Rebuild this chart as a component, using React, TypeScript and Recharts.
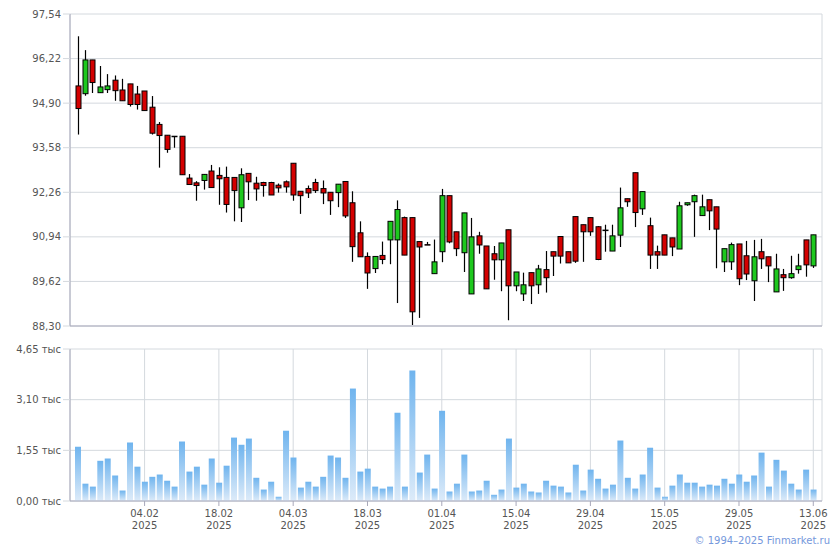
import {
	ComposedChart,
	BarChart,
	Bar,
	XAxis,
	YAxis,
	CartesianGrid,
} from "recharts";

const dates = [
	"22.01", "23.01", "24.01", "27.01", "28.01", "29.01", "30.01", "31.01",
	"03.02", "04.02", "05.02", "06.02", "07.02", "10.02", "11.02", "12.02", "13.02", "14.02",
	"17.02", "18.02", "19.02", "20.02", "21.02", "24.02", "25.02", "26.02", "27.02", "28.02",
	"03.03", "04.03", "05.03", "06.03", "07.03", "10.03", "11.03", "12.03", "13.03", "14.03",
	"17.03", "18.03", "19.03", "20.03", "21.03", "24.03", "25.03", "26.03", "27.03", "28.03", "31.03",
	"01.04", "02.04", "03.04", "04.04", "07.04", "08.04", "09.04", "10.04", "11.04", "14.04",
	"15.04", "16.04", "17.04", "18.04", "21.04", "22.04", "23.04", "24.04", "25.04", "28.04",
	"29.04", "30.04", "02.05", "05.05", "06.05", "07.05", "08.05", "12.05", "13.05", "14.05",
	"15.05", "16.05", "19.05", "20.05", "21.05", "22.05", "23.05", "26.05", "27.05", "28.05",
	"29.05", "30.05", "02.06", "03.06", "04.06", "05.06", "06.06", "09.06", "10.06", "11.06",
	"13.06",
];

const openPrices = [
	95.41, 95.18, 96.18, 95.21, 95.3, 95.58, 95.29, 95.47, 95.17, 95.26,
	94.78, 94.27, 93.95, 93.92, 93.92, 92.68, 92.54, 92.61, 92.89, 92.76,
	92.7, 92.7, 91.8, 92.82, 92.53, 92.55, 92.55, 92.47, 92.57, 93.12,
	92.29, 92.37, 92.55, 92.37, 92.26, 92.25, 92.58, 91.95, 91.06, 90.36,
	90.0, 90.39, 90.85, 90.85, 91.51, 91.51, 90.8, 90.71, 89.85, 90.5,
	92.16, 91.09, 90.47, 89.25, 90.97, 90.67, 90.44, 90.26, 91.15, 89.49,
	89.25, 89.88, 89.52, 89.97, 90.5, 90.95, 90.5, 91.54, 91.3, 91.51,
	91.24, 91.14, 90.52, 90.99, 92.07, 92.84, 91.77, 91.27, 90.5, 91.0,
	90.91, 90.58, 91.89, 91.98, 91.57, 92.04, 91.83, 90.2, 90.2, 90.73,
	90.38, 89.64, 90.5, 90.35, 89.31, 89.82, 89.73, 89.97, 90.85, 90.08,
];

const highPrices = [
	96.88, 96.47, 96.18, 96.0, 95.76, 95.72, 95.62, 95.47, 95.41, 95.26,
	95.11, 94.34, 93.95, 93.92, 93.92, 92.8, 92.59, 92.8, 93.07, 93.0,
	93.02, 92.7, 92.97, 92.82, 92.72, 92.57, 92.57, 92.52, 92.61, 93.12,
	92.29, 92.46, 92.66, 92.61, 92.26, 92.5, 92.58, 92.29, 91.4, 90.48,
	90.36, 90.8, 91.4, 92.02, 91.54, 91.51, 90.8, 90.79, 90.86, 92.36,
	92.16, 91.09, 91.65, 91.5, 91.09, 90.67, 90.67, 90.76, 91.15, 89.9,
	89.88, 89.88, 90.11, 90.52, 90.5, 90.95, 90.5, 91.54, 91.3, 91.51,
	91.26, 91.3, 91.3, 92.4, 92.07, 92.84, 92.28, 91.51, 90.68, 91.0,
	90.91, 91.98, 91.95, 92.19, 92.19, 92.04, 91.83, 90.59, 90.77, 90.73,
	90.82, 90.85, 90.88, 90.35, 90.44, 89.99, 90.38, 90.44, 90.85, 91.0,
];

const lowPrices = [
	93.97, 95.12, 95.2, 95.2, 95.2, 94.97, 94.97, 94.8, 94.71, 94.68,
	93.97, 92.99, 93.43, 93.58, 92.78, 92.49, 92.01, 92.34, 92.4, 91.89,
	91.66, 91.4, 91.38, 92.03, 92.01, 92.13, 92.18, 92.25, 92.25, 92.01,
	91.62, 92.09, 92.24, 91.91, 91.59, 91.82, 91.5, 90.2, 90.35, 89.4,
	89.87, 90.13, 90.13, 88.98, 90.4, 88.33, 88.54, 90.7, 89.85, 90.19,
	90.75, 90.37, 89.9, 89.25, 90.44, 89.4, 89.67, 89.33, 88.47, 89.33,
	89.04, 88.95, 89.25, 89.29, 89.78, 90.15, 90.17, 90.17, 90.2, 90.97,
	90.25, 90.5, 90.52, 90.64, 91.83, 91.23, 91.59, 89.99, 89.99, 90.4,
	90.37, 90.58, 91.86, 90.94, 91.57, 91.14, 90.01, 89.9, 89.96, 89.51,
	89.66, 89.04, 89.99, 89.6, 89.31, 89.34, 89.7, 89.85, 89.76, 90.02,
];

const closePrices = [
	94.74, 96.18, 95.51, 95.38, 95.41, 95.27, 94.97, 94.86, 94.86, 94.68,
	94.01, 93.94, 93.53, 93.91, 92.78, 92.49, 92.46, 92.79, 92.4, 92.66,
	91.9, 92.31, 92.78, 92.57, 92.36, 92.46, 92.18, 92.39, 92.42, 92.18,
	92.16, 92.24, 92.31, 92.24, 92.01, 92.5, 91.56, 90.65, 90.35, 89.87,
	90.36, 90.27, 91.4, 91.75, 90.4, 88.72, 90.64, 90.7, 90.2, 92.16,
	90.79, 90.59, 91.65, 90.94, 90.7, 89.4, 90.26, 90.76, 89.49, 89.9,
	89.52, 89.49, 89.99, 89.73, 90.37, 90.37, 90.17, 90.22, 91.09, 91.09,
	90.27, 91.13, 90.97, 91.8, 91.98, 91.66, 92.28, 90.4, 90.4, 90.4,
	90.64, 91.86, 91.95, 92.16, 91.83, 91.71, 91.17, 90.59, 90.71, 89.7,
	89.84, 90.35, 90.29, 90.08, 89.99, 89.73, 89.85, 90.08, 90.11, 91.0,
];

// volume, thousands
const volumes = [
	1.66, 0.53, 0.44, 1.23, 1.3, 0.78, 0.32, 1.79, 1.05, 0.59,
	0.74, 0.81, 0.62, 0.44, 1.82, 0.9, 1.05, 0.5, 1.3, 0.56,
	1.08, 1.94, 1.72, 1.91, 0.71, 0.35, 0.59, 0.13, 2.15, 1.33,
	0.41, 0.59, 0.44, 0.74, 1.39, 1.33, 0.71, 3.44, 0.9, 0.99,
	0.44, 0.38, 0.44, 2.7, 0.44, 3.99, 0.87, 1.42, 0.38, 2.76,
	0.29, 0.53, 1.42, 0.29, 0.32, 0.62, 0.19, 0.35, 1.91, 0.41,
	0.53, 0.29, 0.26, 0.62, 0.47, 0.44, 0.26, 1.11, 0.32, 0.96,
	0.68, 0.38, 0.5, 1.85, 0.71, 0.38, 0.81, 1.63, 0.41, 0.13,
	0.47, 0.81, 0.56, 0.56, 0.44, 0.5, 0.47, 0.68, 0.53, 0.81,
	0.59, 0.78, 1.48, 0.44, 1.26, 0.93, 0.53, 0.35, 0.96, 0.35,
];

const dateTicks = [
	"04.02", "18.02", "04.03", "18.03", "01.04",
	"15.04", "29.04", "15.05", "29.05", "13.06",
];
const priceTicks = [88.3, 89.62, 90.94, 92.26, 93.58, 94.9, 96.22, 97.54];
const volumeTicks = [0, 1.55, 3.1, 4.65];

const data = dates.map((date, i) => ({
	date,
	open: openPrices[i],
	high: highPrices[i],
	low: lowPrices[i],
	close: closePrices[i],
	range: [lowPrices[i], highPrices[i]],
	vol: volumes[i],
}));

const GRID = "#d4d9de";
const AXIS = "#a8a8ba";
const FONT = "DejaVu Sans";
const tickStyle = { fill: "#555", fontSize: 10, fontFamily: FONT };
const comma = (v: number) => v.toFixed(2).replace(".", ",");

const Candle = (props: any) => {
	const { x, y, width, height, payload } = props;
	const { open, close, high, low } = payload;
	const cx = Math.round(x + width / 2) + 0.5;
	const k = high > low ? height / (high - low) : 0;
	const yOpen = y + (high - open) * k;
	const yClose = y + (high - close) * k;
	const top = Math.min(yOpen, yClose);
	const bh = Math.max(Math.abs(yOpen - yClose), 0.5);
	const up = close > open;
	return (
		<g>
			<line x1={cx} x2={cx} y1={y} y2={y + height} stroke="#000" strokeWidth={1.2} />
			<rect
				x={cx - 2.5}
				y={top}
				width={5}
				height={bh}
				fill={up ? "#1ec81e" : "#d40000"}
				stroke="#000"
				strokeWidth={1}
			/>
		</g>
	);
};

const DateTick = (props: any) => {
	const { x, y, payload } = props;
	return (
		<g>
			<text x={x} y={y + 9} textAnchor="middle" {...tickStyle}>
				{payload.value}
			</text>
			<text x={x} y={y + 21} textAnchor="middle" {...tickStyle}>
				2025
			</text>
		</g>
	);
};

const xAxisCommon = {
	dataKey: "date",
	type: "category" as const,
	ticks: dateTicks,
	interval: 0 as const,
	padding: { left: 4, right: 5 },
	axisLine: { stroke: AXIS },
	tickLine: { stroke: AXIS },
	tickSize: 5,
};

export default function App() {
	return (
		<div
			style={{
				position: "absolute",
				left: 0,
				top: 0,
				width: 840,
				height: 550,
				background: "#fff",
			}}
		>
			<div style={{ position: "absolute", left: 0, top: 0 }}>
				<ComposedChart
					width={840}
					height={340}
					data={data}
					margin={{ top: 14, right: 18, bottom: 0, left: 0 }}
				>
					<CartesianGrid stroke={GRID} />
					<XAxis {...xAxisCommon} height={14} tick={false} />
					<YAxis
						width={70}
						domain={[88.3, 97.54]}
						ticks={priceTicks}
						interval={0}
						allowDataOverflow
						tickFormatter={comma}
						tick={tickStyle}
						tickSize={7}
						tickMargin={2}
						axisLine={{ stroke: AXIS }}
						tickLine={{ stroke: GRID }}
					/>
					<Bar
						dataKey="range"
						barSize={5}
						shape={Candle}
						isAnimationActive={false}
					/>
				</ComposedChart>
			</div>
			<div style={{ position: "absolute", left: 0, top: 340 }}>
				<BarChart
					width={840}
					height={210}
					data={data}
					margin={{ top: 9, right: 18, bottom: 0, left: 0 }}
				>
					<defs>
						<linearGradient id="volGrad" x1="0" y1="0" x2="0" y2="1">
							<stop offset="0%" stopColor="#6fb4ee" />
							<stop offset="100%" stopColor="#ddebf9" />
						</linearGradient>
					</defs>
					<CartesianGrid stroke={GRID} />
					<XAxis {...xAxisCommon} height={49} tick={<DateTick />} tickMargin={2} />
					<YAxis
						width={70}
						domain={[0, 4.65]}
						ticks={volumeTicks}
						interval={0}
						allowDataOverflow
						tickFormatter={(v: number) => `${comma(v)} тыс`}
						tick={tickStyle}
						tickSize={7}
						tickMargin={2}
						axisLine={{ stroke: AXIS }}
						tickLine={{ stroke: GRID }}
					/>
					<Bar
						dataKey="vol"
						barSize={6}
						fill="url(#volGrad)"
						isAnimationActive={false}
					/>
				</BarChart>
			</div>
			<div
				style={{
					position: "absolute",
					right: 10,
					top: 535,
					fontFamily: FONT,
					fontSize: 10,
					color: "#7598dc",
					whiteSpace: "nowrap",
				}}
			>
				© 1994–2025 Finmarket.ru
			</div>
		</div>
	);
}
